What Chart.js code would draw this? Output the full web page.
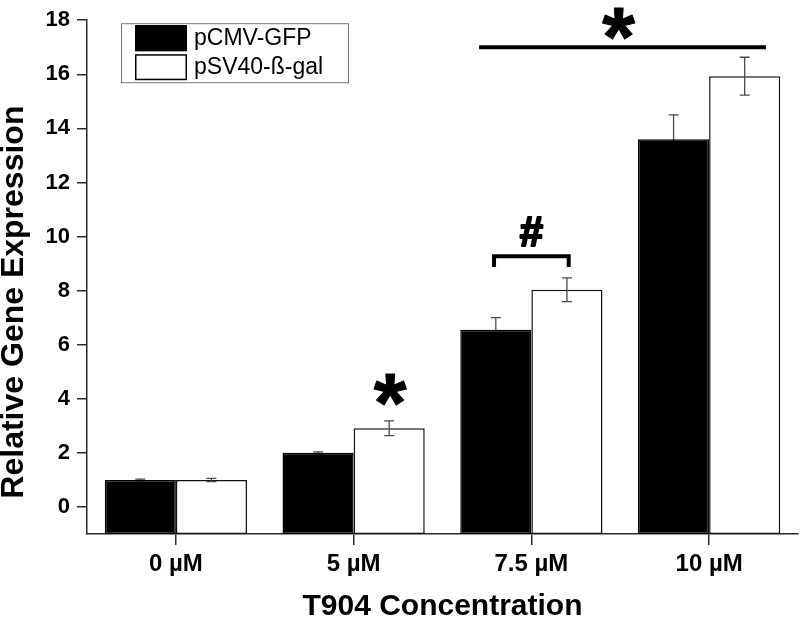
<!DOCTYPE html>
<html>
<head>
<meta charset="utf-8">
<script src="https://cdn.jsdelivr.net/npm/chart.js@4.4.1/dist/chart.umd.min.js"></script>
<style>
  html, body { margin: 0; padding: 0; background: #fff; }
  #wrap { position: relative; width: 800px; height: 619px; }
</style>
</head>
<body>
<div id="wrap"><canvas id="c" width="800" height="619"></canvas></div>
<script>
// ---- Data ----
const categories = ['0 µM', '5 µM', '7.5 µM', '10 µM'];
const seriesNames = ['pCMV-GFP', 'pSV40-ß-gal'];
const gfpValues = [1.0, 2.0, 6.55, 13.6];
const gfpErrors = [0.03, 0.04, 0.45, 0.9];
const galValues = [1.0, 2.91, 8.03, 15.93];
const galErrors = [0.06, 0.27, 0.44, 0.7];
const yTicks = [0, 2, 4, 6, 8, 10, 12, 14, 16, 18];
const yMin = -1;
const yMax = 18;
const xTitle = 'T904 Concentration';
const yTitle = 'Relative Gene Expression';

// significance annotations (category index units, value units)
const sigLine = { x0: 1.706, x1: 3.32, y: 17 };
const sigStars = [ { x: 1.205, y: 4.33 }, { x: 2.49, y: 17.85 } ];
const hashBracket = { x0: 1.79, x1: 2.21, y: 9.27, legY: 8.87, labelY: 10.2, label: '#' };

const FONT = "'Liberation Sans', Arial, Helvetica, sans-serif";
const AXIS_COLOR = '#2a2a2a';

const errorBarsPlugin = {
  id: 'errorBars',
  drawErrors(chart, dsIndex) {
    const ds = chart.data.datasets[dsIndex];
    const meta = chart.getDatasetMeta(dsIndex);
    const y = chart.scales.y;
    const ctx = chart.ctx;
    ctx.save();
    ctx.strokeStyle = '#4a4a4a';
    ctx.lineWidth = 1.3;
    meta.data.forEach((bar, i) => {
      const v = ds.data[i], e = ds.errors[i];
      const yt = y.getPixelForValue(v + e);
      const yb = y.getPixelForValue(v - e);
      const x = bar.x;
      ctx.beginPath();
      ctx.moveTo(x, yt); ctx.lineTo(x, yb);
      ctx.moveTo(x - 5, yt); ctx.lineTo(x + 5, yt);
      ctx.moveTo(x - 5, yb); ctx.lineTo(x + 5, yb);
      ctx.stroke();
    });
    ctx.restore();
  },
  beforeDatasetDraw(chart, args) {
    if (chart.data.datasets[args.index].errorBehind) this.drawErrors(chart, args.index);
  },
  afterDatasetDraw(chart, args) {
    if (!chart.data.datasets[args.index].errorBehind) this.drawErrors(chart, args.index);
  }
};

const annotationPlugin = {
  id: 'annot',
  afterDraw(chart) {
    const ctx = chart.ctx;
    const xs = chart.scales.x, ys = chart.scales.y;
    ctx.save();
    ctx.strokeStyle = '#000';
    ctx.fillStyle = '#000';
    // long line
    ctx.lineWidth = 4;
    ctx.beginPath();
    ctx.moveTo(xs.getPixelForValue(sigLine.x0), ys.getPixelForValue(sigLine.y));
    ctx.lineTo(xs.getPixelForValue(sigLine.x1), ys.getPixelForValue(sigLine.y));
    ctx.stroke();
    // bracket
    ctx.lineWidth = 4;
    ctx.lineCap = 'butt';
    ctx.lineJoin = 'miter';
    ctx.beginPath();
    ctx.moveTo(xs.getPixelForValue(hashBracket.x0), ys.getPixelForValue(hashBracket.legY));
    ctx.lineTo(xs.getPixelForValue(hashBracket.x0), ys.getPixelForValue(hashBracket.y));
    ctx.lineTo(xs.getPixelForValue(hashBracket.x1), ys.getPixelForValue(hashBracket.y));
    ctx.lineTo(xs.getPixelForValue(hashBracket.x1), ys.getPixelForValue(hashBracket.legY));
    ctx.stroke();
    // glyph helper: center glyph box at point
    function glyph(text, font, px, py, strokeW) {
      ctx.font = font;
      ctx.textAlign = 'center';
      ctx.textBaseline = 'alphabetic';
      const m = ctx.measureText(text);
      const h = m.actualBoundingBoxAscent + m.actualBoundingBoxDescent;
      const baseline = py + h / 2 - m.actualBoundingBoxDescent;
      ctx.fillText(text, px, baseline);
      if (strokeW) { ctx.lineWidth = strokeW; ctx.lineJoin = 'round'; ctx.strokeText(text, px, baseline); }
    }
    glyph(hashBracket.label, 'bold 42px ' + FONT,
      xs.getPixelForValue((hashBracket.x0 + hashBracket.x1) / 2), ys.getPixelForValue(hashBracket.labelY), 2);
    sigStars.forEach(s => glyph('*', 'bold 84px ' + FONT, xs.getPixelForValue(s.x), ys.getPixelForValue(s.y), 1));
    ctx.restore();
  }
};

const yTitlePlugin = {
  id: 'yTitle',
  afterDraw(chart) {
    const ctx = chart.ctx;
    const ca = chart.chartArea;
    ctx.save();
    ctx.translate(14, ca.top + (ca.bottom - ca.top) / 2 + 25);
    ctx.rotate(-Math.PI / 2);
    ctx.font = 'bold 32px ' + FONT;
    ctx.fillStyle = '#000';
    ctx.textAlign = 'center';
    ctx.textBaseline = 'middle';
    ctx.fillText(yTitle, 0, 0);
    ctx.restore();
  }
};

const legendPlugin = {
  id: 'boxLegend',
  afterDraw(chart) {
    const ctx = chart.ctx;
    const ca = chart.chartArea;
    const bx = ca.left + 34, by = ca.top + 3, bw = 227, bh = 59;
    ctx.save();
    ctx.fillStyle = '#fff';
    ctx.fillRect(bx, by, bw, bh);
    ctx.strokeStyle = '#777';
    ctx.lineWidth = 1;
    ctx.strokeRect(bx + 0.5, by + 0.5, bw, bh);
    chart.data.datasets.forEach((ds, i) => {
      const sy = by + 2 + i * 29;
      ctx.fillStyle = ds.backgroundColor;
      ctx.fillRect(bx + 14, sy, 52, 26);
      ctx.strokeStyle = '#000';
      ctx.lineWidth = 1.5;
      ctx.strokeRect(bx + 14.75, sy + 0.75, 50.5, 24.5);
      ctx.fillStyle = '#000';
      ctx.font = '23px ' + FONT;
      ctx.textAlign = 'left';
      ctx.textBaseline = 'middle';
      ctx.fillText(ds.label, bx + 73, sy + 13);
    });
    ctx.restore();
  }
};

new Chart(document.getElementById('c'), {
  type: 'bar',
  data: {
    labels: categories,
    datasets: [
      { label: seriesNames[0], data: gfpValues, errors: gfpErrors, errorBehind: true,
        backgroundColor: '#000', borderColor: '#000', borderWidth: 1.5, base: yMin },
      { label: seriesNames[1], data: galValues, errors: galErrors, errorBehind: false,
        backgroundColor: '#fff', borderColor: '#111', borderWidth: 1.5, base: yMin }
    ]
  },
  options: {
    responsive: false,
    animation: false,
    devicePixelRatio: 1,
    layout: { padding: { top: 12, right: 2, left: 0, bottom: 0 } },
    plugins: { legend: { display: false }, tooltip: { enabled: false } },
    datasets: { bar: { categoryPercentage: 0.8, barPercentage: 1.0, borderSkipped: false } },
    scales: {
      x: {
        grid: { display: true, offset: false, drawOnChartArea: false, drawTicks: true, tickLength: 11,
                color: AXIS_COLOR, lineWidth: 1.5 },
        border: { display: true, color: AXIS_COLOR, width: 1.5 },
        ticks: { color: '#000', font: { family: FONT, size: 24, weight: 'bold' }, padding: 5, maxRotation: 0 },
        title: { display: true, text: xTitle, color: '#000',
                 font: { family: FONT, size: 30, weight: 'bold', lineHeight: 1 }, padding: { top: 0, bottom: -3 } },
        afterFit(scale) { scale.height = 85; }
      },
      y: {
        min: yMin, max: yMax,
        afterBuildTicks(scale) { scale.ticks = yTicks.map(v => ({ value: v })); },
        grid: { display: true, drawOnChartArea: false, drawTicks: true, tickLength: 10,
                color: AXIS_COLOR, lineWidth: 1.5 },
        border: { display: true, color: AXIS_COLOR, width: 1.5 },
        ticks: { color: '#000', font: { family: FONT, size: 22, weight: 'bold' }, padding: 7 },
        title: { display: false },
        afterFit(scale) { scale.width = 87; }
      }
    }
  },
  plugins: [errorBarsPlugin, annotationPlugin, yTitlePlugin, legendPlugin]
});
</script>
</body>
</html>
